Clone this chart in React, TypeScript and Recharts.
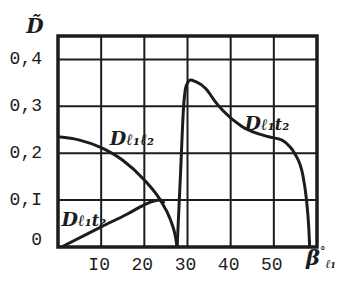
import React from "react";
import {
  LineChart,
  Line,
  XAxis,
  YAxis,
  CartesianGrid,
  ReferenceArea,
  ReferenceDot,
  Label,
} from "recharts";

// ---- data ----
const xTickValues = [10, 20, 30, 40, 50];
const xTickLabels = ["I0", "20", "30", "40", "50"];
const yTickValues = [0, 0.1, 0.2, 0.3, 0.4];
const yTickLabels = ["0", "0,I", "0,2", "0,3", "0,4"];

// D l1 l2 (descending quarter curve)
const dL1L2X = [0, 5, 10, 15, 20, 23.7, 26.0, 27.1, 27.6];
const dL1L2Y = [0.235, 0.228, 0.212, 0.185, 0.143, 0.1, 0.059, 0.027, 0];

// D l1 t2 (low straight-ish branch)
const dL1T2LowX = [0.8, 10, 16.2, 20, 22.2, 23.8, 24.6];
const dL1T2LowY = [0, 0.043, 0.071, 0.09, 0.098, 0.1, 0.093];

// D l1 t2 (right hump)
const dL1T2HighX = [27.6, 28.4, 29.1, 29.5, 30.0, 30.7, 31.8, 34.2, 36.6, 38.3, 42.6, 48.8, 51.9, 53.6, 54.8, 56.7, 57.5, 58.1, 58.3];
const dL1T2HighY = [0, 0.16, 0.3, 0.336, 0.35, 0.356, 0.353, 0.338, 0.308, 0.29, 0.257, 0.235, 0.228, 0.215, 0.2, 0.154, 0.106, 0.04, 0];

const curveLabels = [
  { x: 12, y: 0.218, main: "D", sub: "ℓ₁ℓ₂" },
  { x: 0.8, y: 0.045, main: "D", sub: "ℓ₁t₂" },
  { x: 43.2, y: 0.25, main: "D", sub: "ℓ₁t₂" },
];

const toPoints = (xs: number[], ys: number[]) => xs.map((x, i) => ({ x, y: ys[i] }));
const seriesA = toPoints(dL1L2X, dL1L2Y);
const seriesB = toPoints(dL1T2LowX, dL1T2LowY);
const seriesC = toPoints(dL1T2HighX, dL1T2HighY);

const INK = "#1c1c1c";
const tickFont = "'Liberation Mono', monospace";
const scriptFont = "'DejaVu Serif', serif";

const XTick = (props: any) => {
  const { x, y, payload } = props;
  const idx = xTickValues.indexOf(payload.value);
  return (
    <text x={x - 2} y={y + 23} textAnchor="middle" fontFamily={tickFont} fontSize={18} fill={INK}>
      {xTickLabels[idx]}
    </text>
  );
};

const YTick = (props: any) => {
  const { x, y, payload } = props;
  const idx = yTickValues.indexOf(payload.value);
  const shift = payload.value === 0 ? -8 : -2;
  return (
    <text x={x - 16} y={y + shift} dy="0.36em" textAnchor="end" fontFamily={tickFont} fontSize={18} fill={INK}>
      {yTickLabels[idx]}
    </text>
  );
};

const CurveLabel = (props: any) => {
  const { viewBox, main, sub } = props;
  const x = viewBox.x + (viewBox.width || 0) / 2;
  const y = viewBox.y + (viewBox.height || 0) / 2;
  return (
    <text x={x} y={y} fontFamily={scriptFont} fontStyle="italic" fontWeight="bold" fill={INK}>
      <tspan fontSize={19}>{main}</tspan>
      <tspan fontSize={16}>{sub}</tspan>
    </text>
  );
};

const YTitle = (props: any) => {
  const { viewBox } = props;
  const cx = viewBox.x + viewBox.width - 23;
  return (
    <text x={cx} y={viewBox.y - 3} textAnchor="middle" fontFamily={scriptFont} fontStyle="italic" fontWeight="bold" fontSize={20} fill={INK}>
      D̃
    </text>
  );
};

const XTitle = (props: any) => {
  const { viewBox } = props;
  const x0 = viewBox.x + viewBox.width - 11;
  return (
    <text x={x0} y={viewBox.y + 18} fontFamily={scriptFont} fontStyle="italic" fontWeight="bold" fill={INK}>
      <tspan fontSize={21}>β</tspan>
      <tspan fontSize={11} dy={-10}>°</tspan>
      <tspan fontSize={12} dy={13}>ℓ₁</tspan>
    </text>
  );
};

export default function App() {
  return (
    <div style={{ position: "absolute", left: 0, top: 0, width: 340, height: 293, background: "#ffffff" }}>
      <LineChart width={340} height={293} margin={{ top: 36, right: 23, left: 0, bottom: 16 }}>
        <CartesianGrid stroke={INK} strokeWidth={2} />
        <XAxis
          type="number"
          dataKey="x"
          domain={[0, 60]}
          ticks={xTickValues}
          allowDataOverflow
          axisLine={false}
          tickLine={false}
          tickSize={0}
          tickMargin={0}
          height={30}
          tick={<XTick />}
          interval={0}
        >
          <Label content={<XTitle />} />
        </XAxis>
        <YAxis
          type="number"
          dataKey="y"
          domain={[0, 0.45]}
          ticks={yTickValues}
          allowDataOverflow
          axisLine={false}
          tickLine={false}
          tickSize={0}
          tickMargin={0}
          width={58}
          tick={<YTick />}
          interval={0}
        >
          <Label content={<YTitle />} />
        </YAxis>
        <ReferenceArea x1={0} x2={60} y1={0} y2={0.45} fill="none" stroke={INK} strokeWidth={3.5} />
        <Line data={seriesA} dataKey="y" type="monotone" stroke={INK} strokeWidth={3} dot={false} isAnimationActive={false} />
        <Line data={seriesB} dataKey="y" type="monotone" stroke={INK} strokeWidth={3} dot={false} isAnimationActive={false} />
        <Line data={seriesC} dataKey="y" type="monotone" stroke={INK} strokeWidth={3} dot={false} isAnimationActive={false} />
        {curveLabels.map((c, i) => (
          <ReferenceDot key={i} x={c.x} y={c.y} r={1} fill="none" stroke="none" label={<CurveLabel main={c.main} sub={c.sub} />} />
        ))}
      </LineChart>
    </div>
  );
}
